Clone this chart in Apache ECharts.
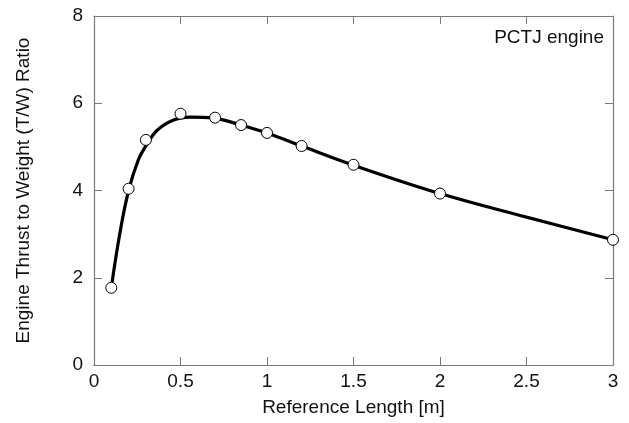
<!DOCTYPE html>
<html>
<head>
<meta charset="utf-8">
<script src="https://cdn.jsdelivr.net/npm/echarts@6/dist/echarts.min.js"></script>
<style>html,body{margin:0;padding:0;background:#fff}#c{width:629px;height:423px}</style>
</head>
<body>
<div id="c"></div>
<script>
// Measured data points
const pointX = [0.1, 0.2, 0.3, 0.5, 0.7, 0.85, 1.0, 1.2, 1.5, 2.0, 3.0];
const pointY = [1.77, 4.04, 5.16, 5.76, 5.67, 5.50, 5.32, 5.02, 4.59, 3.93, 2.87];
// Fitted curve
const curveX = [0.1, 0.15, 0.2, 0.256, 0.3, 0.362, 0.457, 0.555, 0.69, 0.85, 1.0, 1.2, 1.5, 2.0, 2.5, 3.0];
const curveY = [1.77, 3.03, 4.0, 4.70, 5.02, 5.37, 5.61, 5.68, 5.66, 5.50, 5.32, 5.02, 4.58, 3.93, 3.39, 2.87];
const xTicks = [0, 0.5, 1, 1.5, 2, 2.5, 3];
const yTicks = [0, 2, 4, 6, 8];
const annotation = 'PCTJ engine';

const font = 'Liberation Sans, Arial, Helvetica, sans-serif';
const axisCol = '#7a7a7a';
const txtCol = '#111';
const chart = echarts.init(document.getElementById('c'));
const baseX = {
  type: 'value', min: 0, max: 3, interval: 0.5,
  axisLine: {show: true, onZero: false, lineStyle: {color: axisCol, width: 1.2}},
  axisTick: {show: true, inside: true, length: 8, lineStyle: {color: axisCol}},
  splitLine: {show: false}
};
const baseY = {
  type: 'value', min: 0, max: 8, interval: 2,
  axisLine: {show: true, onZero: false, lineStyle: {color: axisCol, width: 1.2}},
  axisTick: {show: true, inside: true, length: 8, lineStyle: {color: axisCol}},
  splitLine: {show: false}
};
chart.setOption({
  animation: false,
  backgroundColor: '#fff',
  grid: {left: 94, top: 16, right: 16, bottom: 58},
  xAxis: [
    Object.assign({}, baseX, {
      position: 'bottom',
      name: 'Reference Length [m]', nameLocation: 'middle', nameGap: 33,
      nameTextStyle: {fontFamily: font, fontSize: 19, color: txtCol},
      axisLabel: {fontFamily: font, fontSize: 19, color: txtCol, margin: 7,
        formatter: v => { const s = xTicks.find(t => Math.abs(t - v) < 1e-9); return s === undefined ? '' : String(s); }}
    }),
    Object.assign({}, baseX, {position: 'top', axisLabel: {show: false}})
  ],
  yAxis: [
    Object.assign({}, baseY, {
      position: 'left',
      name: 'Engine Thrust to Weight (T/W) Ratio', nameLocation: 'middle', nameGap: 61,
      nameTextStyle: {fontFamily: font, fontSize: 19, color: txtCol},
      axisLabel: {fontFamily: font, fontSize: 19, color: txtCol, margin: 11,
        formatter: v => { const s = yTicks.find(t => Math.abs(t - v) < 1e-9); return s === undefined ? '' : String(s); }}
    }),
    Object.assign({}, baseY, {position: 'right', axisLabel: {show: false}})
  ],
  series: [
    {
      type: 'line', xAxisIndex: 0, yAxisIndex: 0,
      data: curveX.map((x, i) => [x, curveY[i]]),
      smooth: 0.4, showSymbol: false, symbol: 'none',
      lineStyle: {color: '#000', width: 3.2}, z: 2
    },
    {
      type: 'scatter', xAxisIndex: 0, yAxisIndex: 0,
      data: pointX.map((x, i) => [x, pointY[i]]),
      symbol: 'circle', symbolSize: 11,
      itemStyle: {color: '#fff', borderColor: '#000', borderWidth: 1, opacity: 1}, z: 3
    }
  ],
  graphic: [{
    type: 'text', right: 25, top: 28,
    style: {text: annotation, font: '19px ' + font, fill: txtCol}
  }]
});
</script>
</body>
</html>
